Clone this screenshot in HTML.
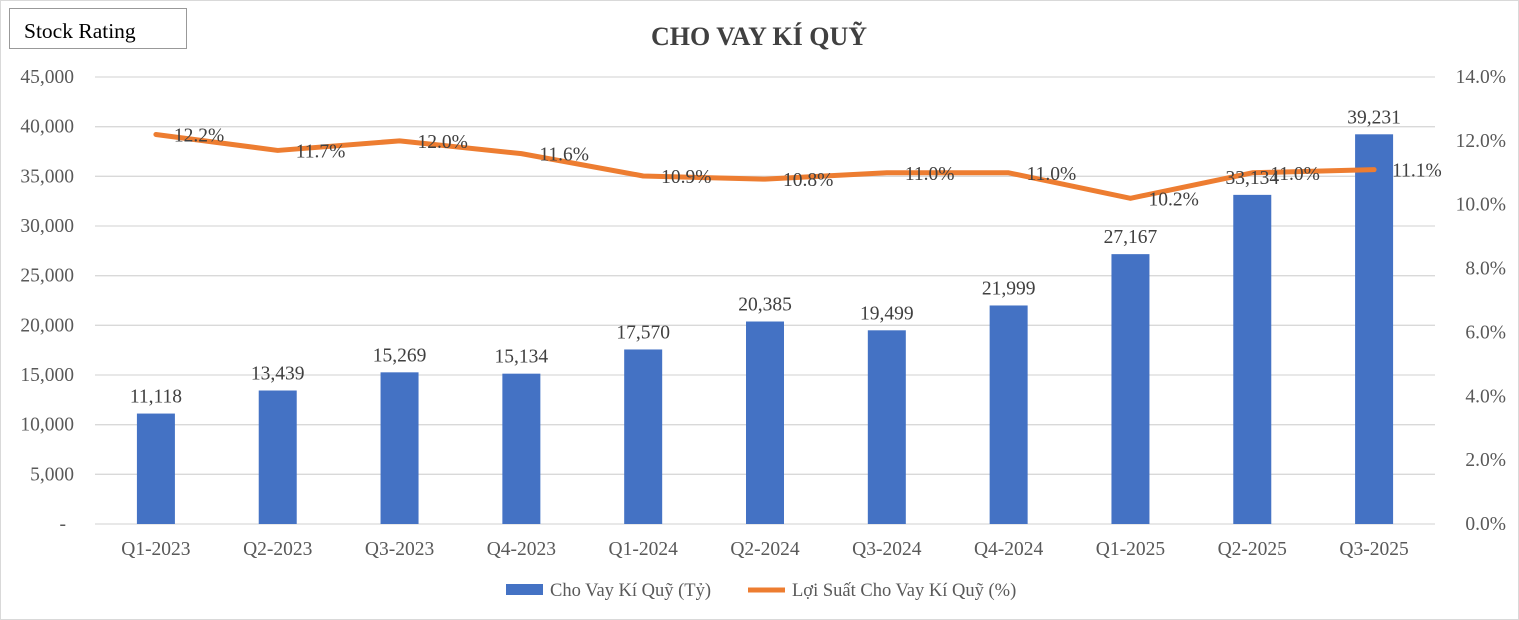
<!DOCTYPE html>
<html><head><meta charset="utf-8"><style>
html,body{margin:0;padding:0;background:#fff;}
svg{display:block;font-family:"Liberation Serif","DejaVu Serif",serif;}
</style></head><body>
<svg id="c" width="1519" height="620">
<rect x="0.5" y="0.5" width="1518" height="619" fill="#fff" stroke="#d9d9d9"/>
<rect x="9.5" y="8.5" width="177" height="40" fill="#fff" stroke="#999"/>
<text x="24" y="38" font-size="21.5" fill="#000">Stock Rating</text>
<text x="759" y="45" font-size="26" font-weight="bold" fill="#404040" text-anchor="middle">CHO VAY KÍ QUỸ</text>
<g id="grid"></g><g id="bars"></g><g id="line"></g><g id="labels"></g>
<g>
<rect x="506" y="584" width="37" height="11" fill="#4472C4"/>
<text x="550" y="596" font-size="18.5" fill="#595959">Cho Vay Kí Quỹ (Tỷ)</text>
<line x1="748" y1="590" x2="785" y2="590" stroke="#ED7D31" stroke-width="5"/>
<text x="792" y="596" font-size="18.5" fill="#595959">Lợi Suất Cho Vay Kí Quỹ (%)</text>
</g>
</svg>
<script>
const categories=["Q1-2023","Q2-2023","Q3-2023","Q4-2023","Q1-2024","Q2-2024","Q3-2024","Q4-2024","Q1-2025","Q2-2025","Q3-2025"];
const loanValues=[11118,13439,15269,15134,17570,20385,19499,21999,27167,33134,39231];
const yieldValues=[12.2,11.7,12.0,11.6,10.9,10.8,11.0,11.0,10.2,11.0,11.1];
const leftTicks=[0,5000,10000,15000,20000,25000,30000,35000,40000,45000];
const rightTicks=[0,2,4,6,8,10,12,14];
const NS="http://www.w3.org/2000/svg";
const X0=95,X1=1435,Y0=524,Y1=77;
const FS=19.5;
const band=(X1-X0)/categories.length;
const xc=i=>X0+band*(i+0.5);
const yL=v=>Y0-(v/45000)*(Y0-Y1);
const yR=v=>Y0-(v/14)*(Y0-Y1);
function mk(tag,attrs,parent,text){const e=document.createElementNS(NS,tag);for(const k in attrs)e.setAttribute(k,attrs[k]);if(text!==undefined)e.textContent=text;parent.appendChild(e);return e;}
const fmt=v=>v===0?"-":v.toLocaleString("en-US");
const grid=document.getElementById("grid");
leftTicks.forEach(t=>{
 const y=yL(t);
 const l=mk("line",{x1:X0,x2:X1,y1:y,y2:y,stroke:"#d9d9d9","stroke-width":1.3},grid);
 
 
 const tx=mk("text",{x:t===0?66:74,y:y+6,"font-size":FS,fill:"#595959","text-anchor":"end"},grid,fmt(t));
 
 
});
rightTicks.forEach(t=>{
 const tx=mk("text",{x:1506,y:yR(t)+6,"font-size":FS,fill:"#595959","text-anchor":"end"},grid,t.toFixed(1)+"%");
 
 
});
categories.forEach((c,i)=>{
 const tx=mk("text",{x:xc(i),y:555,"font-size":FS,fill:"#595959","text-anchor":"middle"},grid,c);
 
 
});
const bars=document.getElementById("bars"),labels=document.getElementById("labels");
loanValues.forEach((v,i)=>{
 const bw=38;
 const r=mk("rect",{x:xc(i)-bw/2,y:yL(v),width:bw,height:Y0-yL(v),fill:"#4472C4"},bars);
 
 
 const t=mk("text",{x:xc(i),y:yL(v)-11,"font-size":FS,fill:"#404040","text-anchor":"middle"},labels,fmt(v));
 
 
});
const pts=yieldValues.map((v,i)=>xc(i)+","+yR(v)).join(" ");
const pl=mk("polyline",{points:pts,fill:"none",stroke:"#ED7D31","stroke-width":5,"stroke-linejoin":"round","stroke-linecap":"round"},document.getElementById("line"));


yieldValues.forEach((v,i)=>{
 const t=mk("text",{x:xc(i)+18,y:yR(v)+7,"font-size":FS,fill:"#404040"},labels,v.toFixed(1)+"%");
 
 
});
</script>
</body></html>
